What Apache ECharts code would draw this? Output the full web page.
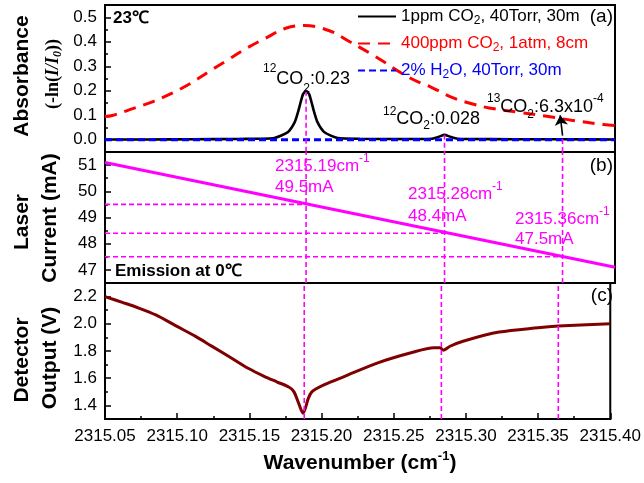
<!DOCTYPE html>
<html><head><meta charset="utf-8">
<script src="https://cdn.jsdelivr.net/npm/echarts@6/dist/echarts.min.js"></script>
<style>html,body{margin:0;padding:0;background:#fff}#c{width:644px;height:483px}</style>
</head><body><div id="c"></div>
<script>
// ---------- data ----------
const xMin = 2315.05, xMax = 2315.40;
const xTicks = [2315.05, 2315.10, 2315.15, 2315.20, 2315.25, 2315.30, 2315.35, 2315.40];
const xMinorTicks = [2315.075, 2315.125, 2315.175, 2315.225, 2315.275, 2315.325, 2315.375];

const absTicks = [0.0, 0.1, 0.2, 0.3, 0.4, 0.5];
const absMinor = [0.05, 0.15, 0.25, 0.35, 0.45];
const curTicks = [47, 48, 49, 50, 51];
const curMinor = [47.5, 48.5, 49.5, 50.5];
const detTicks = [1.4, 1.6, 1.8, 2.0, 2.2];
const detMinor = [1.5, 1.7, 1.9, 2.1];

const legendNames = ['1ppm CO2, 40Torr, 30m', '400ppm CO2, 1atm, 8cm', '2% H2O, 40Torr, 30m'];
const legendLabels = ['{m|1ppm CO}{s|2}{m|, 40Torr, 30m}', '{m|400ppm CO}{s|2}{m|, 1atm, 8cm}', '{m|2% H}{s|2}{m|O, 40Torr, 30m}'];

// (a) absorbance
const co2_1ppm = [[2315.05,0.001],[2315.08,0.001],[2315.11,0.002],[2315.14,0.003],[2315.155,0.004],[2315.1663,0.007],
  [2315.1754,0.031],[2315.1802,0.072],[2315.1828,0.12],[2315.1846,0.161],[2315.1860,0.187],[2315.188,0.2],
  [2315.1900,0.187],[2315.1914,0.161],[2315.1932,0.12],[2315.1958,0.072],[2315.2006,0.031],[2315.2097,0.007],
  [2315.225,0.004],[2315.25,0.003],[2315.268,0.003],[2315.274,0.004],[2315.279,0.012],[2315.283,0.02],
  [2315.287,0.012],[2315.292,0.004],[2315.30,0.003],[2315.33,0.002],[2315.364,0.002],[2315.40,0.001]];
const co2_400ppm = [[2315.05,0.095],[2315.055,0.099],[2315.069,0.127],[2315.083,0.156],[2315.096,0.190],[2315.109,0.231],
  [2315.121,0.277],[2315.134,0.325],[2315.147,0.373],[2315.160,0.414],[2315.174,0.455],[2315.187,0.466],
  [2315.204,0.445],[2315.218,0.400],[2315.235,0.342],[2315.259,0.253],[2315.274,0.214],[2315.289,0.171],
  [2315.303,0.145],[2315.3135,0.130],[2315.333,0.113],[2315.352,0.097],[2315.371,0.079],[2315.392,0.062],[2315.40,0.058]];
const h2o_2pct = [[2315.05,0],[2315.10,0],[2315.15,0],[2315.20,0],[2315.25,0],[2315.30,0],[2315.35,0],[2315.40,0]];

// (b) laser current
const laserCurrent = [[2315.05,51.1],[2315.40,47.1]];

// (c) detector output
const detector = [[2315.05,2.200],[2315.0625,2.156],[2315.0739,2.114],[2315.0852,2.065],[2315.0995,1.983],[2315.1125,1.909],
  [2315.1239,1.836],[2315.1375,1.749],[2315.1495,1.671],[2315.1602,1.614],[2315.1693,1.572],[2315.1773,1.535],
  [2315.1807,1.503],[2315.1841,1.417],[2315.1872,1.343],[2315.1909,1.454],[2315.1932,1.498],[2315.196,1.520],
  [2315.202,1.553],[2315.216,1.614],[2315.239,1.713],[2315.262,1.787],[2315.278,1.824],[2315.282,1.824],
  [2315.2845,1.806],[2315.289,1.835],[2315.298,1.872],[2315.323,1.939],[2315.35,1.971],[2315.364,1.983],[2315.40,2.001]];

// markers
const markWavenumbers = [2315.188, 2315.283, 2315.364];
const markPeakAbs = [0.2, 0.02, 0.003];
const markCurrents = [49.5, 48.4, 47.5];
const arrowFrom = [2315.364, 0.017], arrowTo = [2315.3624, 0.1];

const absRange = [-0.05, 0.55], curRange = [46.5, 51.5], detRange = [1.3, 2.3];

// ---------- chart ----------
const chart = echarts.init(document.getElementById('c'), null, {renderer:'canvas'});
const FONT = 'Liberation Sans';
const L = {left:105, right:29};
const grids = [
  {left:L.left, right:L.right, top:5, height:147, show:true, borderColor:'#000', borderWidth:2},
  {left:L.left, right:L.right, top:152, height:131, show:true, borderColor:'#000', borderWidth:2},
  {left:L.left, right:L.right, top:283, height:136, show:true, borderColor:'#000', borderWidth:2}
];
function hiddenX(g){ return {type:'value', gridIndex:g, min:xMin, max:xMax, axisLine:{show:false}, axisTick:{show:false}, axisLabel:{show:false}, splitLine:{show:false}}; }
const xAxes = [hiddenX(0), hiddenX(1),
  {type:'value', gridIndex:2, min:xMin, max:xMax, position:'bottom',
   axisLine:{show:true, lineStyle:{color:'#000', width:2}},
   axisTick:{show:true, inside:true, length:6, customValues:xTicks, lineStyle:{color:'#000', width:1.5}},
   axisLabel:{customValues:xTicks, formatter:v=>v.toFixed(2), fontSize:17, fontFamily:FONT, color:'#000', margin:9},
   splitLine:{show:false}},
  {type:'value', gridIndex:2, min:xMin, max:xMax, position:'bottom', axisLine:{show:false},
   axisTick:{show:true, inside:true, length:3, customValues:xMinorTicks, lineStyle:{color:'#000', width:1.5}},
   axisLabel:{show:false}, splitLine:{show:false}}
];
function yPair(g, range, major, minor, fmt){
  return [
    {type:'value', gridIndex:g, min:range[0], max:range[1], position:'left',
     axisLine:{show:true, lineStyle:{color:'#000', width:2}},
     axisTick:{show:true, inside:true, length:6, customValues:major, lineStyle:{color:'#000', width:1.5}},
     axisLabel:{customValues:major, formatter:fmt, fontSize:17, fontFamily:FONT, color:'#000', margin:8},
     splitLine:{show:false}},
    {type:'value', gridIndex:g, min:range[0], max:range[1], position:'left', offset:0, axisLine:{show:false},
     axisTick:{show:true, inside:true, length:3, customValues:minor, lineStyle:{color:'#000', width:1.5}},
     axisLabel:{show:false}, splitLine:{show:false}}
  ];
}
const yAxes = [].concat(
  yPair(0, absRange, absTicks, absMinor, v=>v.toFixed(1)),
  yPair(1, curRange, curTicks, curMinor, v=>String(Math.round(v))),
  yPair(2, detRange, detTicks, detMinor, v=>v.toFixed(1))
);

const MAG = '#ff00ff';
const magDash = {color:MAG, width:1.6, type:[5,3]};
const series = [];
function seg(xi, yi, data, ls, z){ series.push({type:'line', xAxisIndex:xi, yAxisIndex:yi, data, symbol:'none', lineStyle:ls, silent:true, z:z||3}); }

series.push({name:legendNames[0], type:'line', xAxisIndex:0, yAxisIndex:0, data:co2_1ppm, symbol:'none', smooth:0.2,
  lineStyle:{color:'#000', width:2.6}, itemStyle:{color:'#000'}, z:2,
  markLine:{silent:true, symbol:['none','arrow'], symbolSize:[10,10], label:{show:false}, lineStyle:{color:'#000', width:1.6, type:'solid'},
    data:[[{coord:arrowFrom},{coord:arrowTo}]]}});
series.push({name:legendNames[1], type:'line', xAxisIndex:0, yAxisIndex:0, data:co2_400ppm, symbol:'none', smooth:0.4,
  lineStyle:{color:'#ff0000', width:3, type:[12,8]}, itemStyle:{color:'#ff0000'}, z:2});
series.push({name:legendNames[2], type:'line', xAxisIndex:0, yAxisIndex:0, data:h2o_2pct, symbol:'none',
  lineStyle:{color:'#0000ff', width:3, type:[7,4]}, itemStyle:{color:'#0000ff'}, z:2});
series.push({type:'line', xAxisIndex:1, yAxisIndex:2, data:laserCurrent, symbol:'none', lineStyle:{color:MAG, width:3}, silent:true, z:2});
series.push({type:'line', xAxisIndex:2, yAxisIndex:4, data:detector, symbol:'none', smooth:0.3, lineStyle:{color:'#7f0000', width:3}, silent:true, z:2});

markWavenumbers.forEach((w,i)=>{
  seg(0, 0, [[w, markPeakAbs[i]],[w, absRange[0]]], magDash);
  seg(1, 2, [[w, curRange[0]],[w, curRange[1]]], magDash);
  seg(2, 4, [[w, detRange[0]],[w, detRange[1]]], magDash);
  seg(1, 2, [[xMin, markCurrents[i]],[w, markCurrents[i]]], magDash);
});

// ---------- texts ----------
function T(x, y, text, style, rot){
  const e = {type:'text', x, y, silent:true, z:10,
    style:Object.assign({text, fill:'#000', fontFamily:FONT, fontSize:17, align:'left', verticalAlign:'middle'}, style||{})};
  if (rot) e.rotation = rot;
  return e;
}
const R90 = Math.PI/2;
const bold = {fontWeight:'bold', fontSize:21, align:'center'};
function annRich(L, supLH, subLH, size){
  return {
    m:{fontSize:size, lineHeight:L, fontFamily:FONT},
    p:{fontSize:12, lineHeight:supLH, verticalAlign:'top', fontFamily:FONT},
    s:{fontSize:12, lineHeight:subLH, verticalAlign:'bottom', fontFamily:FONT}
  };
}
const magRich = {m:{fontSize:17, lineHeight:26, fontFamily:FONT, fill:MAG}, p:{fontSize:12, lineHeight:12, verticalAlign:'top', fontFamily:FONT, fill:MAG}};
const graphics = [
  T(22, 76, 'Absorbance', bold, R90),
  T(53, 74, '{a|(-ln(}{i|I/I}{s|0}{a|))}', {align:'center', rich:{
     a:{fontFamily:'Liberation Serif', fontWeight:'bold', fontSize:18, lineHeight:22},
     i:{fontFamily:'Liberation Serif', fontWeight:'bold', fontStyle:'italic', fontSize:18, lineHeight:22},
     s:{fontFamily:'Liberation Serif', fontWeight:'bold', fontStyle:'italic', fontSize:12, lineHeight:14, verticalAlign:'bottom'}}}, R90),
  T(22, 222, 'Laser', bold, R90),
  T(50, 218, 'Current (mA)', bold, R90),
  T(22, 360, 'Detector', bold, R90),
  T(50, 358, 'Output (V)', bold, R90),
  T(360, 463, '{m|Wavenumber (cm}{p|-1}{m|)}', {align:'center', rich:{
     m:{fontSize:21, fontWeight:'bold', lineHeight:26, fontFamily:FONT},
     p:{fontSize:13, fontWeight:'bold', lineHeight:12, verticalAlign:'top', fontFamily:FONT}}}),
  T(113, 18, '23℃', {fontWeight:'bold', fontSize:17}),
  T(115, 271, 'Emission at 0℃', {fontWeight:'bold', fontSize:17}),
  T(613, 17, '(a)', {fontSize:19, align:'right'}),
  T(613, 166, '(b)', {fontSize:19, align:'right'}),
  T(613, 296, '(c)', {fontSize:19, align:'right'}),
  T(263, 79, '{p|12}{m|CO}{s|2}{m|:0.23}', {rich:annRich(32,12,16,18)}),
  T(383, 119, '{p|12}{m|CO}{s|2}{m|:0.028}', {rich:annRich(26,12,16,18)}),
  T(487, 107, '{p|13}{m|CO}{s|2}{m|:6.3x10}{p|-4}', {rich:annRich(28,12,18,18)}),
  T(275, 166, '{m|2315.19cm}{p|-1}', {rich:magRich}),
  T(275, 187, '49.5mA', {fill:MAG}),
  T(408, 194, '{m|2315.28cm}{p|-1}', {rich:magRich}),
  T(408, 216, '48.4mA', {fill:MAG}),
  T(515, 219, '{m|2315.36cm}{p|-1}', {rich:magRich}),
  T(515, 239, '47.5mA', {fill:MAG})
];

chart.setOption({
  animation:false,
  backgroundColor:'#fff',
  grid:grids, xAxis:xAxes, yAxis:yAxes, series,
  legend:{left:357, top:8, orient:'vertical', padding:0, itemGap:8.5, itemWidth:38, itemHeight:14, selectedMode:false,
    itemStyle:{opacity:0},
    data:[{name:legendNames[0], textStyle:{color:'#000'}}, {name:legendNames[1], textStyle:{color:'#ff0000'}}, {name:legendNames[2], textStyle:{color:'#0000ff'}}],
    formatter:name=>legendLabels[legendNames.indexOf(name)],
    textStyle:{fontSize:17, fontFamily:FONT, rich:{m:{fontSize:17, lineHeight:20, fontFamily:FONT}, s:{fontSize:12, lineHeight:12, verticalAlign:'bottom', fontFamily:FONT}}}},
  graphic:graphics
});
</script></body></html>
